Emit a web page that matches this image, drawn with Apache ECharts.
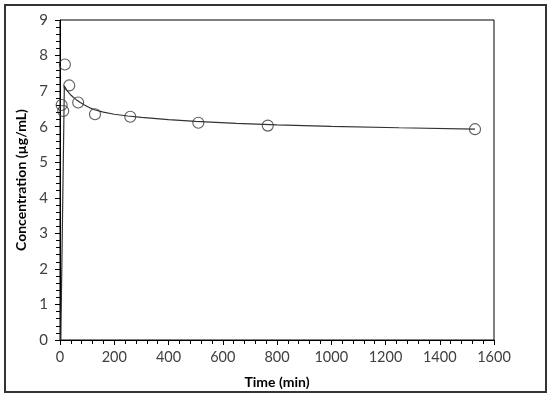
<!DOCTYPE html>
<html><head><meta charset="utf-8">
<script src="https://cdn.jsdelivr.net/npm/echarts@6/dist/echarts.min.js"></script>
<style>html,body{margin:0;padding:0;background:#fff}#c{width:550px;height:397px}
#frame{position:absolute;left:4px;top:4px;width:539px;height:385px;border:2px solid #333;pointer-events:none}</style>
</head><body><div id="c"></div><div id="frame"></div>
<script>
const obsTime = [6, 12, 18, 34, 67, 129, 259, 510, 766, 1530];
const obsConc = [6.61, 6.44, 7.75, 7.16, 6.68, 6.35, 6.28, 6.11, 6.03, 5.93];
const fitTime = [3, 16, 20, 25, 32, 40, 50, 60, 75, 90, 110, 130, 160, 200, 250, 300, 400, 500, 650, 800, 1000, 1250, 1530];
const fitConc = [0, 7.15, 7.09, 7.03, 6.96, 6.89, 6.82, 6.76, 6.68, 6.61, 6.53, 6.47, 6.41, 6.35, 6.30, 6.26, 6.20, 6.15, 6.09, 6.05, 6.01, 5.97, 5.93];
const xTicks = [0, 200, 400, 600, 800, 1000, 1200, 1400, 1600];
const yTicks = [0, 1, 2, 3, 4, 5, 6, 7, 8, 9];

const chart = echarts.init(document.getElementById('c'), null, {renderer: 'canvas'});
const font = 'Lato, "Open Sans", sans-serif';
chart.setOption({
  animation: false,
  grid: {left: 60, right: 56, top: 20, bottom: 57, show: true, borderColor: '#000', borderWidth: 1},
  xAxis: {
    type: 'value', min: xTicks[0], max: xTicks[xTicks.length - 1], interval: 200,
    name: 'Time (min)', nameLocation: 'middle', nameGap: 35,
    nameTextStyle: {fontFamily: font, fontSize: 14, fontWeight: 'bold', color: '#000'},
    axisLine: {lineStyle: {color: '#000', width: 1}},
    axisTick: {show: true, inside: false, length: 5, lineStyle: {color: '#000'}},
    minorTick: {show: true, splitNumber: 5, length: 4, lineStyle: {color: '#000'}},
    splitLine: {show: false},
    axisLabel: {fontFamily: font, fontSize: 14.5, color: '#404040', margin: 10, formatter: v => String(v)}
  },
  yAxis: {
    type: 'value', min: yTicks[0], max: yTicks[yTicks.length - 1], interval: 1,
    name: 'Concentration (µg/mL)', nameLocation: 'middle', nameGap: 32,
    nameTextStyle: {fontFamily: font, fontSize: 14, fontWeight: 'bold', color: '#000'},
    axisLine: {show: true, lineStyle: {color: '#000', width: 1}},
    axisTick: {show: true, inside: false, length: 5, lineStyle: {color: '#000'}},
    minorTick: {show: true, splitNumber: 5, length: 4, lineStyle: {color: '#000'}},
    splitLine: {show: false},
    axisLabel: {fontFamily: font, fontSize: 15, color: '#404040', margin: 12}
  },
  series: [
    {
      type: 'line', data: fitTime.map((t, i) => [t, fitConc[i]]),
      smooth: false, showSymbol: false, symbol: 'none',
      lineStyle: {color: '#333', width: 1.2}, z: 2
    },
    {
      type: 'scatter', data: obsTime.map((t, i) => [t, obsConc[i]]),
      symbol: 'circle', symbolSize: 11,
      itemStyle: {color: 'rgba(255,255,255,0)', borderColor: '#333', borderWidth: 1.1}, z: 3
    }
  ]
});
</script></body></html>
